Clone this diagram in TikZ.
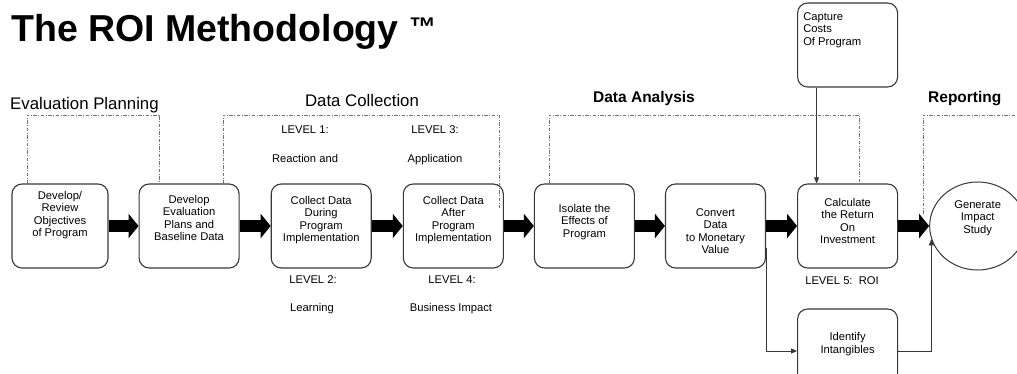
\documentclass[tikz,border=0pt]{standalone}
\usepackage{fontspec}
\setmainfont{Liberation Sans}
\usepackage{tikz}
\usetikzlibrary{arrows.meta,shapes,positioning,calc}
\definecolor{framegray}{RGB}{55,55,55}
\definecolor{phasegray}{RGB}{115,115,115}
\newcommand{\boxfont}{\fontsize{11.2}{12.5}\selectfont}

\begin{document}
\begin{tikzpicture}[
    x=1pt, y=-1pt,
    node distance=30pt,
    stepbox/.style={rectangle, draw=framegray, line width=1.1pt, rounded corners=10pt, minimum width=100pt, minimum height=84pt, inner sep=0pt},
    steptext/.style={align=center, font=\boxfont, inner sep=0pt},
    oval/.style={ellipse, draw=framegray, line width=1pt, minimum width=96pt, minimum height=88pt, inner sep=0pt},
    phase/.style={draw=phasegray, line width=0.8pt, dash pattern=on 3.5pt off 1.5pt on 1pt off 1.5pt},
    phasename/.style={font=\fontsize{16.8}{18}\selectfont, inner sep=0pt},
    level/.style={font=\fontsize{11.2}{12}\selectfont, inner sep=0pt, anchor=base},
    fatarrow/.style={line width=11pt, -{Triangle[length=10pt,width=24pt]}},
    thinarrow/.style={line width=1pt, draw=framegray, -{Triangle[length=6pt,width=5pt]}},
]
\useasboundingbox (0,0) rectangle (1017,374);
\clip (0,0) rectangle (1017,374);

% Title
\node[anchor=base west, inner sep=0pt, font=\fontsize{37.5}{40}\selectfont\bfseries] (title) at (11,42) {The ROI Methodology\ \raisebox{5pt}{\fontsize{27}{27}\selectfont ™}};

% Planning
\node[stepbox, minimum width=96pt] (dev) at (60,226) {};
\node[stepbox, right=of dev] (plan) {};
% Collection
\node[stepbox, right=31pt of plan] (during) {};
\node[stepbox, right=31pt of during] (after) {};
% Analysis
\node[stepbox, right=of after] (isolate) {};
\node[stepbox, right=of isolate] (conv) {};
\node[stepbox, right=31pt of conv] (calc) {};
\node[stepbox] (cost) at (calc |- 0,45) {};
\node[stepbox] (ident) at (calc |- 0,351) {};
% Reporting
\node[oval, right=31pt of calc] (gen) {};

% Box texts
\node[steptext] (dev-t) at ([yshift=11pt]dev.center) {Develop/\\Review\\Objectives\\of Program};
\node[steptext] (plan-t) at ([yshift=8pt]plan.center) {Develop\\Evaluation\\Plans and\\Baseline Data};
\node[steptext] (during-t) at ([yshift=6pt]during.center) {Collect Data\\During\\Program\\Implementation};
\node[steptext] (after-t) at ([yshift=6pt]after.center) {Collect Data\\After\\Program\\Implementation};
\node[steptext] (isolate-t) at ([yshift=4pt]isolate.center) {Isolate the\\Effects of\\Program};
\node[steptext] (conv-t) at ([yshift=-5pt]conv.center) {Convert\\Data\\to Monetary\\Value};
\node[steptext] (calc-t) at ([yshift=5pt]calc.center) {Calculate\\the Return\\On\\Investment};
\node[steptext] (gen-t) at ([yshift=8pt]gen.center) {Generate\\Impact\\Study};
\node[steptext] (ident-t) at ([yshift=7pt]ident.center) {Identify\\Intangibles};
\node[steptext, align=left, anchor=north west] (cost-t) at ([shift={(6pt,-10pt)}]cost.north west) {Capture\\Costs\\Of Program};

% Phase brackets
\draw[phase] (27,184) -- (27,115) -- (159,115) -- (159,184);
\draw[phase] (223,184) -- (223,115) -- (499,115) -- (499,208);
\draw[phase] (549,184) -- (549,115) -- (859,115) -- (859,184);
\draw[phase] (923,214) -- (923,115) -- (1017,115);

% Phase names
\node[phasename, anchor=base west] (evalname) at (10,110) {Evaluation Planning};
\node[phasename, anchor=base] (collname) at (362,107) {Data Collection};
\node[phasename, anchor=base, font=\fontsize{15.5}{18}\selectfont\bfseries] (ananame) at (644,103) {Data Analysis};
\node[phasename, anchor=base west, font=\fontsize{15.5}{18}\selectfont\bfseries] (repname) at (928,103) {Reporting};

% Levels
\node[level] (lv1) at (305,133.5) {LEVEL 1:};
\node[level] (lv1b) at (305,163) {Reaction and};
\node[level] (lv3) at (435,133.5) {LEVEL 3:};
\node[level] (lv3b) at (435,163) {Application};
\node[level] (lv2) at (313,283) {LEVEL 2:};
\node[level] (lv2b) at (312,311) {Learning};
\node[level] (lv4) at (452,283) {LEVEL 4:};
\node[level] (lv4b) at (451,311) {Business Impact};
\node[level] (lv5) at (842,284) {LEVEL 5:\ \ ROI};

% Arrows
\draw[fatarrow] (dev) -- (plan);
\draw[fatarrow] (plan) -- (during);
\draw[fatarrow] (during) -- (after);
\draw[fatarrow] (after) -- (isolate);
\draw[fatarrow] (isolate) -- (conv);
\draw[fatarrow] (conv) -- (calc);
\draw[fatarrow] (calc) -- (gen);
\draw[thinarrow] ([xshift=-31pt]cost.south) -- ([xshift=-31pt]calc.north);
\draw[thinarrow] ([yshift=-22pt]conv.east) |- (ident);
\draw[thinarrow] (ident) -| (gen.196);
\end{tikzpicture}
\end{document}
